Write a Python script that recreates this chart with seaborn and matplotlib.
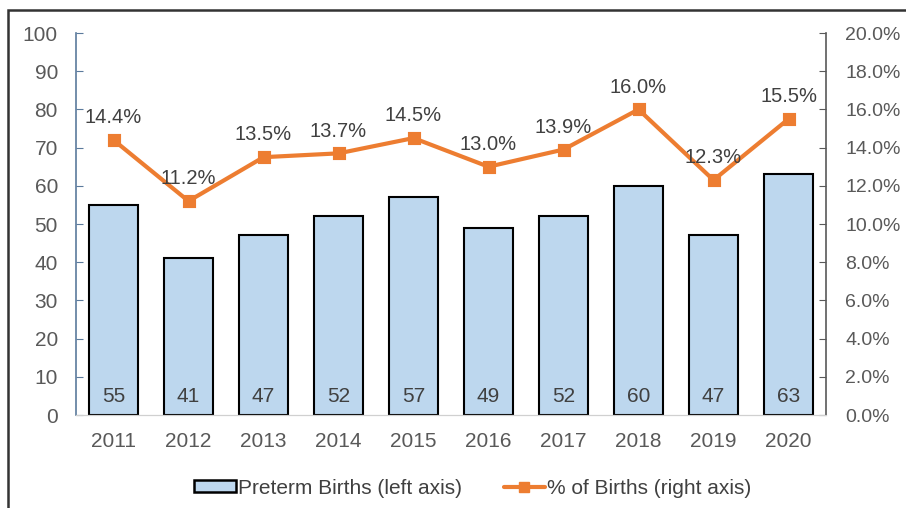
import pandas as pd
import seaborn as sns
import matplotlib.pyplot as plt
from matplotlib.patches import Rectangle, Patch
from matplotlib.lines import Line2D
from matplotlib.ticker import PercentFormatter

years = ['2011', '2012', '2013', '2014', '2015', '2016', '2017', '2018', '2019', '2020']
preterm = [55, 41, 47, 52, 57, 49, 52, 60, 47, 63]
pct_births = [14.4, 11.2, 13.5, 13.7, 14.5, 13.0, 13.9, 16.0, 12.3, 15.5]

df = pd.DataFrame({'year': years, 'preterm': preterm, 'pct': pct_births})

sns.set_style('white')
plt.rcParams['font.family'] = ['Liberation Sans', 'DejaVu Sans']

bar_col = '#bdd7ee'
line_col = '#ed7d31'
txt_col = '#404040'

fig = plt.figure(figsize=(9.06, 5.08), dpi=100)
ax = fig.add_axes([0.0839, 0.183, 0.8278, 0.752])

sns.barplot(data=df, x='year', y='preterm', ax=ax, color=bar_col,
            edgecolor='black', linewidth=1.5, width=0.66, saturation=1)
ax.set_ylim(0, 100)
ax.set_yticks(range(0, 101, 10))
ax.set_xlim(-0.5, 9.5)
ax.set_xlabel('')
ax.set_ylabel('')

# bar values sit near the bottom of each bar
for i, v in enumerate(preterm):
    ax.text(i, 4.8, str(v), ha='center', va='center', fontsize=15, color=txt_col)

ax2 = ax.twinx()
sns.pointplot(data=df, x='year', y='pct', ax=ax2, color=line_col,
              markers='s', markersize=7.5, linewidth=3)
ax2.set_ylim(0, 20)
ax2.set_yticks(range(0, 21, 2))
ax2.yaxis.set_major_formatter(PercentFormatter(decimals=1))
ax2.set_xlim(-0.5, 9.5)
ax2.set_ylabel('')
ax2.set_xlabel('')

for i, v in enumerate(pct_births):
    ax2.annotate(f'{v:.1f}%', (i, v), xytext=(0, 16), textcoords='offset points',
                 ha='center', va='center', fontsize=14.5, color=txt_col)

# spines / ticks
for a in (ax, ax2):
    a.spines['top'].set_visible(False)
    a.spines['bottom'].set_color('#d0d0d0')
ax.spines['right'].set_visible(False)
ax2.spines['left'].set_visible(False)
ax.spines['left'].set_color('#5b7a9c')
ax.spines['left'].set_linewidth(1.2)
ax2.spines['right'].set_color('#595959')
ax2.spines['right'].set_linewidth(1.2)

ax.tick_params(axis='y', direction='in', length=5, color='#5b7a9c', pad=13,
               labelsize=15, labelcolor='#595959', left=True)
ax.tick_params(axis='x', length=0, pad=12, labelsize=15, labelcolor='#595959')
ax2.tick_params(axis='y', direction='in', length=5, color='#595959', pad=14,
                labelsize=14, labelcolor='#595959', right=True)

handles = [Patch(facecolor=bar_col, edgecolor='black', linewidth=1.8),
           Line2D([], [], color=line_col, lw=3, marker='s', markersize=7)]
fig.legend(handles, ['Preterm Births (left axis)', '% of Births (right axis)'],
           loc='center', bbox_to_anchor=(0.522, 0.039), ncol=2, frameon=False,
           fontsize=15, labelcolor='#404040', handlelength=2.0,
           handleheight=0.5, handletextpad=0.1, columnspacing=2.0)

fig.patches.append(Rectangle((8 / 906, -0.05), 1.2, 0.98 + 0.05,
                             transform=fig.transFigure, fill=False,
                             edgecolor='#333333', linewidth=1.8))

fig.savefig('out.png', dpi=100)
